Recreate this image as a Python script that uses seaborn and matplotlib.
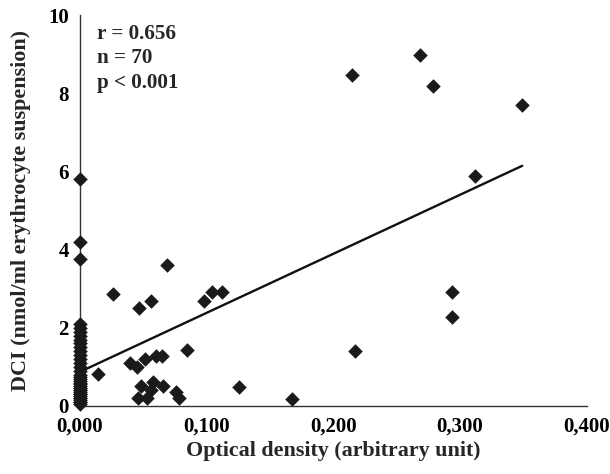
import matplotlib
matplotlib.use("Agg")
import matplotlib.pyplot as plt
import seaborn as sns
import pandas as pd

# Points with non-zero optical density
od_pos = [0.2145, 0.268, 0.2785, 0.349, 0.3115, 0.294, 0.294, 0.217, 0.1254, 0.1676,
          0.098, 0.1046, 0.1125, 0.0264, 0.0469, 0.0564, 0.0848, 0.0395, 0.045, 0.051,
          0.0598, 0.0646, 0.0145, 0.0485, 0.0577, 0.0559, 0.0656, 0.0756, 0.0783, 0.0458,
          0.0527, 0.069]
dci_pos = [8.47, 8.98, 8.19, 7.70, 5.88, 2.92, 2.28, 1.41, 0.49, 0.18,
           2.69, 2.92, 2.92, 2.86, 2.51, 2.68, 1.43, 1.11, 1.00, 1.19,
           1.28, 1.28, 0.82, 0.51, 0.62, 0.41, 0.51, 0.35, 0.20, 0.20,
           0.20, 3.60]
# Points at zero optical density
dci_zero = [5.8, 4.2, 3.75,
            0.05, 0.10, 0.15, 0.20, 0.25, 0.30, 0.35, 0.40, 0.45, 0.50, 0.55, 0.60,
            0.65, 0.70, 0.75, 0.80, 0.90, 1.00, 1.10, 1.20, 1.30, 1.40, 1.50, 1.60,
            1.70, 1.80, 1.90, 2.00, 2.10, 0.10, 0.20, 0.30, 0.30, 0.40, 0.45]

x_ticks = [0.0, 0.1, 0.2, 0.3, 0.4]
x_tick_labels = ["0,000", "0,100", "0,200", "0,300", "0,400"]
y_ticks = [0, 2, 4, 6, 8, 10]
stats_text = "r = 0.656\nn = 70\np < 0.001"

df = pd.DataFrame({
    "od": od_pos + [0.0] * len(dci_zero),
    "dci": dci_pos + dci_zero,
})

sns.set_style("white")
plt.rcParams["font.family"] = ["Liberation Serif", "DejaVu Serif"]
plt.rcParams["font.weight"] = "bold"

fig = plt.figure(figsize=(6.10, 4.74), dpi=100)
ax = fig.add_axes([0.131, 0.1435, 0.831, 0.8245])

sns.regplot(data=df, x="od", y="dci", ax=ax, ci=None, marker="D",
            scatter_kws={"s": 55, "color": "#1a1a1a", "alpha": 1, "linewidths": 0, "zorder": 3},
            line_kws={"color": "#111111", "linewidth": 1.7, "zorder": 2})

ax.set_xlim(0, 0.4)
ax.set_ylim(0, 10)
ax.set_xticks(x_ticks)
ax.set_xticklabels(x_tick_labels)
ax.set_yticks(y_ticks)
ax.tick_params(axis="both", direction="out", length=5, width=1, colors="#333333",
               labelsize=15, labelcolor="black", pad=3)
for lab in ax.get_xticklabels() + ax.get_yticklabels():
    lab.set_fontweight("bold")
for s in ["top", "right"]:
    ax.spines[s].set_visible(False)
for s in ["left", "bottom"]:
    ax.spines[s].set_color("#333333")
    ax.spines[s].set_linewidth(1)

ax.set_xlabel("Optical density (arbitrary unit)", fontsize=15.8, fontweight="bold", labelpad=3)
ax.set_ylabel("DCI (nmol/ml erythrocyte suspension)", fontsize=15.8, fontweight="bold", labelpad=12)

ax.text(0.033, 0.978, stats_text, transform=ax.transAxes, fontsize=15.2,
        fontweight="bold", va="top", ha="left", linespacing=1.3)

for c in ax.collections:
    c.set_clip_on(False)

fig.savefig("out.png", dpi=100)
